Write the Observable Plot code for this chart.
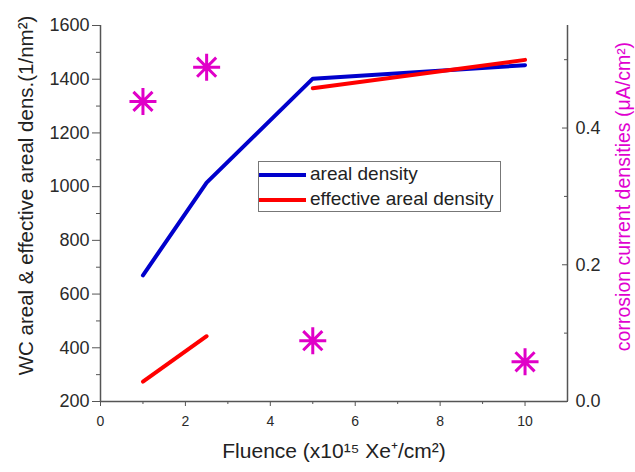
<!DOCTYPE html>
<html><head><meta charset="utf-8">
<script src="https://cdn.jsdelivr.net/npm/d3@7"></script>
<script src="https://cdn.jsdelivr.net/npm/@observablehq/plot@0.6"></script>
<style>
body{margin:0;background:#fff;font-family:"Liberation Sans",Arial,sans-serif}
#wrap{position:relative;width:635px;height:472px}
#legend{position:absolute;left:258px;top:161px;width:243px;height:51px;border:1px solid #777;box-sizing:border-box;background:#fff;font-size:19px;color:#222}
#legend .row{position:absolute;left:0;height:24px;white-space:nowrap}
#legend .sw{position:absolute;left:0;width:47px;height:4px;top:10px}
#legend .lb{position:absolute;left:51px;top:0;line-height:22px}
</style></head>
<body>
<div id="wrap"><div id="chart"></div>
<div id="legend">
  <div class="row" style="top:1px"><div class="sw" style="background:#0000cc"></div><div class="lb">areal density</div></div>
  <div class="row" style="top:26px"><div class="sw" style="background:#ff0000"></div><div class="lb">effective areal density</div></div>
</div>
</div>
<script>
const fluence = [1, 2.5, 5, 10];
const arealDensity = [670, 1015, 1402, 1452];
const effectiveDensity = [274, 443, 1366, 1472];
const effectiveSegment = ["low", "low", "high", "high"];
const corrosion = [0.439, 0.489, 0.089, 0.058];
const leftTicks = [200, 400, 600, 800, 1000, 1200, 1400, 1600];
const leftMinor = [300, 500, 700, 900, 1100, 1300, 1500];
const xTicks = [0, 2, 4, 6, 8, 10];
const xMinor = [1, 3, 5, 7, 9];
const rightTicks = [0, 0.2, 0.4];
const rightMinor = [0.1, 0.3, 0.5];

const toLeft = d3.scaleLinear([0, 0.55], [200, 1600]);

const blue = fluence.map((x, i) => ({x, y: arealDensity[i]}));
const red = fluence.map((x, i) => ({x, y: effectiveDensity[i], seg: effectiveSegment[i]}));
const stars = fluence.map((x, i) => ({x, y: toLeft(corrosion[i])}));

const star8 = {
  draw(ctx, size) {
    const r = Math.sqrt(size / Math.PI);
    const d = r * Math.SQRT1_2;
    ctx.moveTo(0, -r); ctx.lineTo(0, r);
    ctx.moveTo(-r, 0); ctx.lineTo(r, 0);
    ctx.moveTo(-d, -d); ctx.lineTo(d, d);
    ctx.moveTo(-d, d); ctx.lineTo(d, -d);
  }
};

const axisColor = "#555";
const textColor = "#2a2a2a";
const magenta = "#e000c8";

const chart = Plot.plot({
  width: 635, height: 472,
  marginLeft: 100, marginRight: 68, marginTop: 25, marginBottom: 71,
  style: {fontFamily: '"Liberation Sans", Arial, sans-serif', background: "#fff", color: textColor},
  x: {domain: [0, 11]},
  y: {domain: [200, 1600]},
  marks: [
    Plot.line(blue, {x: "x", y: "y", stroke: "#0000cc", strokeWidth: 4, strokeLinecap: "round"}),
    Plot.line(red, {x: "x", y: "y", z: "seg", stroke: "#ff0000", strokeWidth: 4, strokeLinecap: "round"}),
    Plot.dot(stars, {x: "x", y: "y", symbol: star8, r: 13.5, fill: "none", stroke: magenta, strokeWidth: 3}),
    // left axis
    Plot.axisY(leftTicks, {anchor: "left", tickSize: 8, tickPadding: 3, fontSize: 18, stroke: axisColor, fill: textColor, tickFormat: d3.format("d"), label: null}),
    Plot.axisY(leftMinor, {anchor: "left", tickSize: 4, tickFormat: () => "", stroke: axisColor, label: null}),
    // bottom axis
    Plot.axisX(xTicks, {anchor: "bottom", tickSize: 5, tickPadding: 10, fontSize: 14, stroke: axisColor, fill: textColor, tickFormat: d3.format("d"), label: null}),
    Plot.axisX(xMinor, {anchor: "bottom", tickSize: 3, tickFormat: () => "", stroke: axisColor, label: null}),
    // right axis (corrosion scale mapped onto the left scale)
    Plot.axisY(rightTicks.map(toLeft), {anchor: "right", tickSize: 6, dx: -6, tickFormat: () => "", stroke: axisColor, label: null}),
    Plot.axisY(rightMinor.map(toLeft), {anchor: "right", tickSize: 4, dx: -4, tickFormat: () => "", stroke: axisColor, label: null}),
    Plot.axisY(rightTicks.map(toLeft), {anchor: "right", tickSize: 0, tickPadding: 8, fontSize: 18, fill: textColor, tickFormat: (d) => toLeft.invert(d).toFixed(1), label: null}),
    // axis lines
    Plot.ruleX([0], {stroke: axisColor, strokeWidth: 1.5}),
    Plot.ruleX([11], {stroke: axisColor, strokeWidth: 1.5}),
    Plot.ruleY([200], {stroke: axisColor, strokeWidth: 1.5}),
    // titles
    Plot.text(["WC areal & effective areal dens.(1/nm²)"], {frameAnchor: "left", textAnchor: "middle", dx: -74, dy: -18, rotate: -90, fontSize: 20.5, fill: "#222"}),
    Plot.text(["corrosion current densities (μA/cm²)"], {frameAnchor: "right", textAnchor: "middle", dx: 56, dy: -17, rotate: -90, fontSize: 19.5, fill: "#e000d0"}),
    Plot.text(["Fluence (x10¹⁵ Xe⁺/cm²)"], {frameAnchor: "bottom", textAnchor: "middle", dx: 0, dy: 56, fontSize: 21, fill: "#222"})
  ]
});
document.getElementById("chart").appendChild(chart);
</script>
</body></html>
